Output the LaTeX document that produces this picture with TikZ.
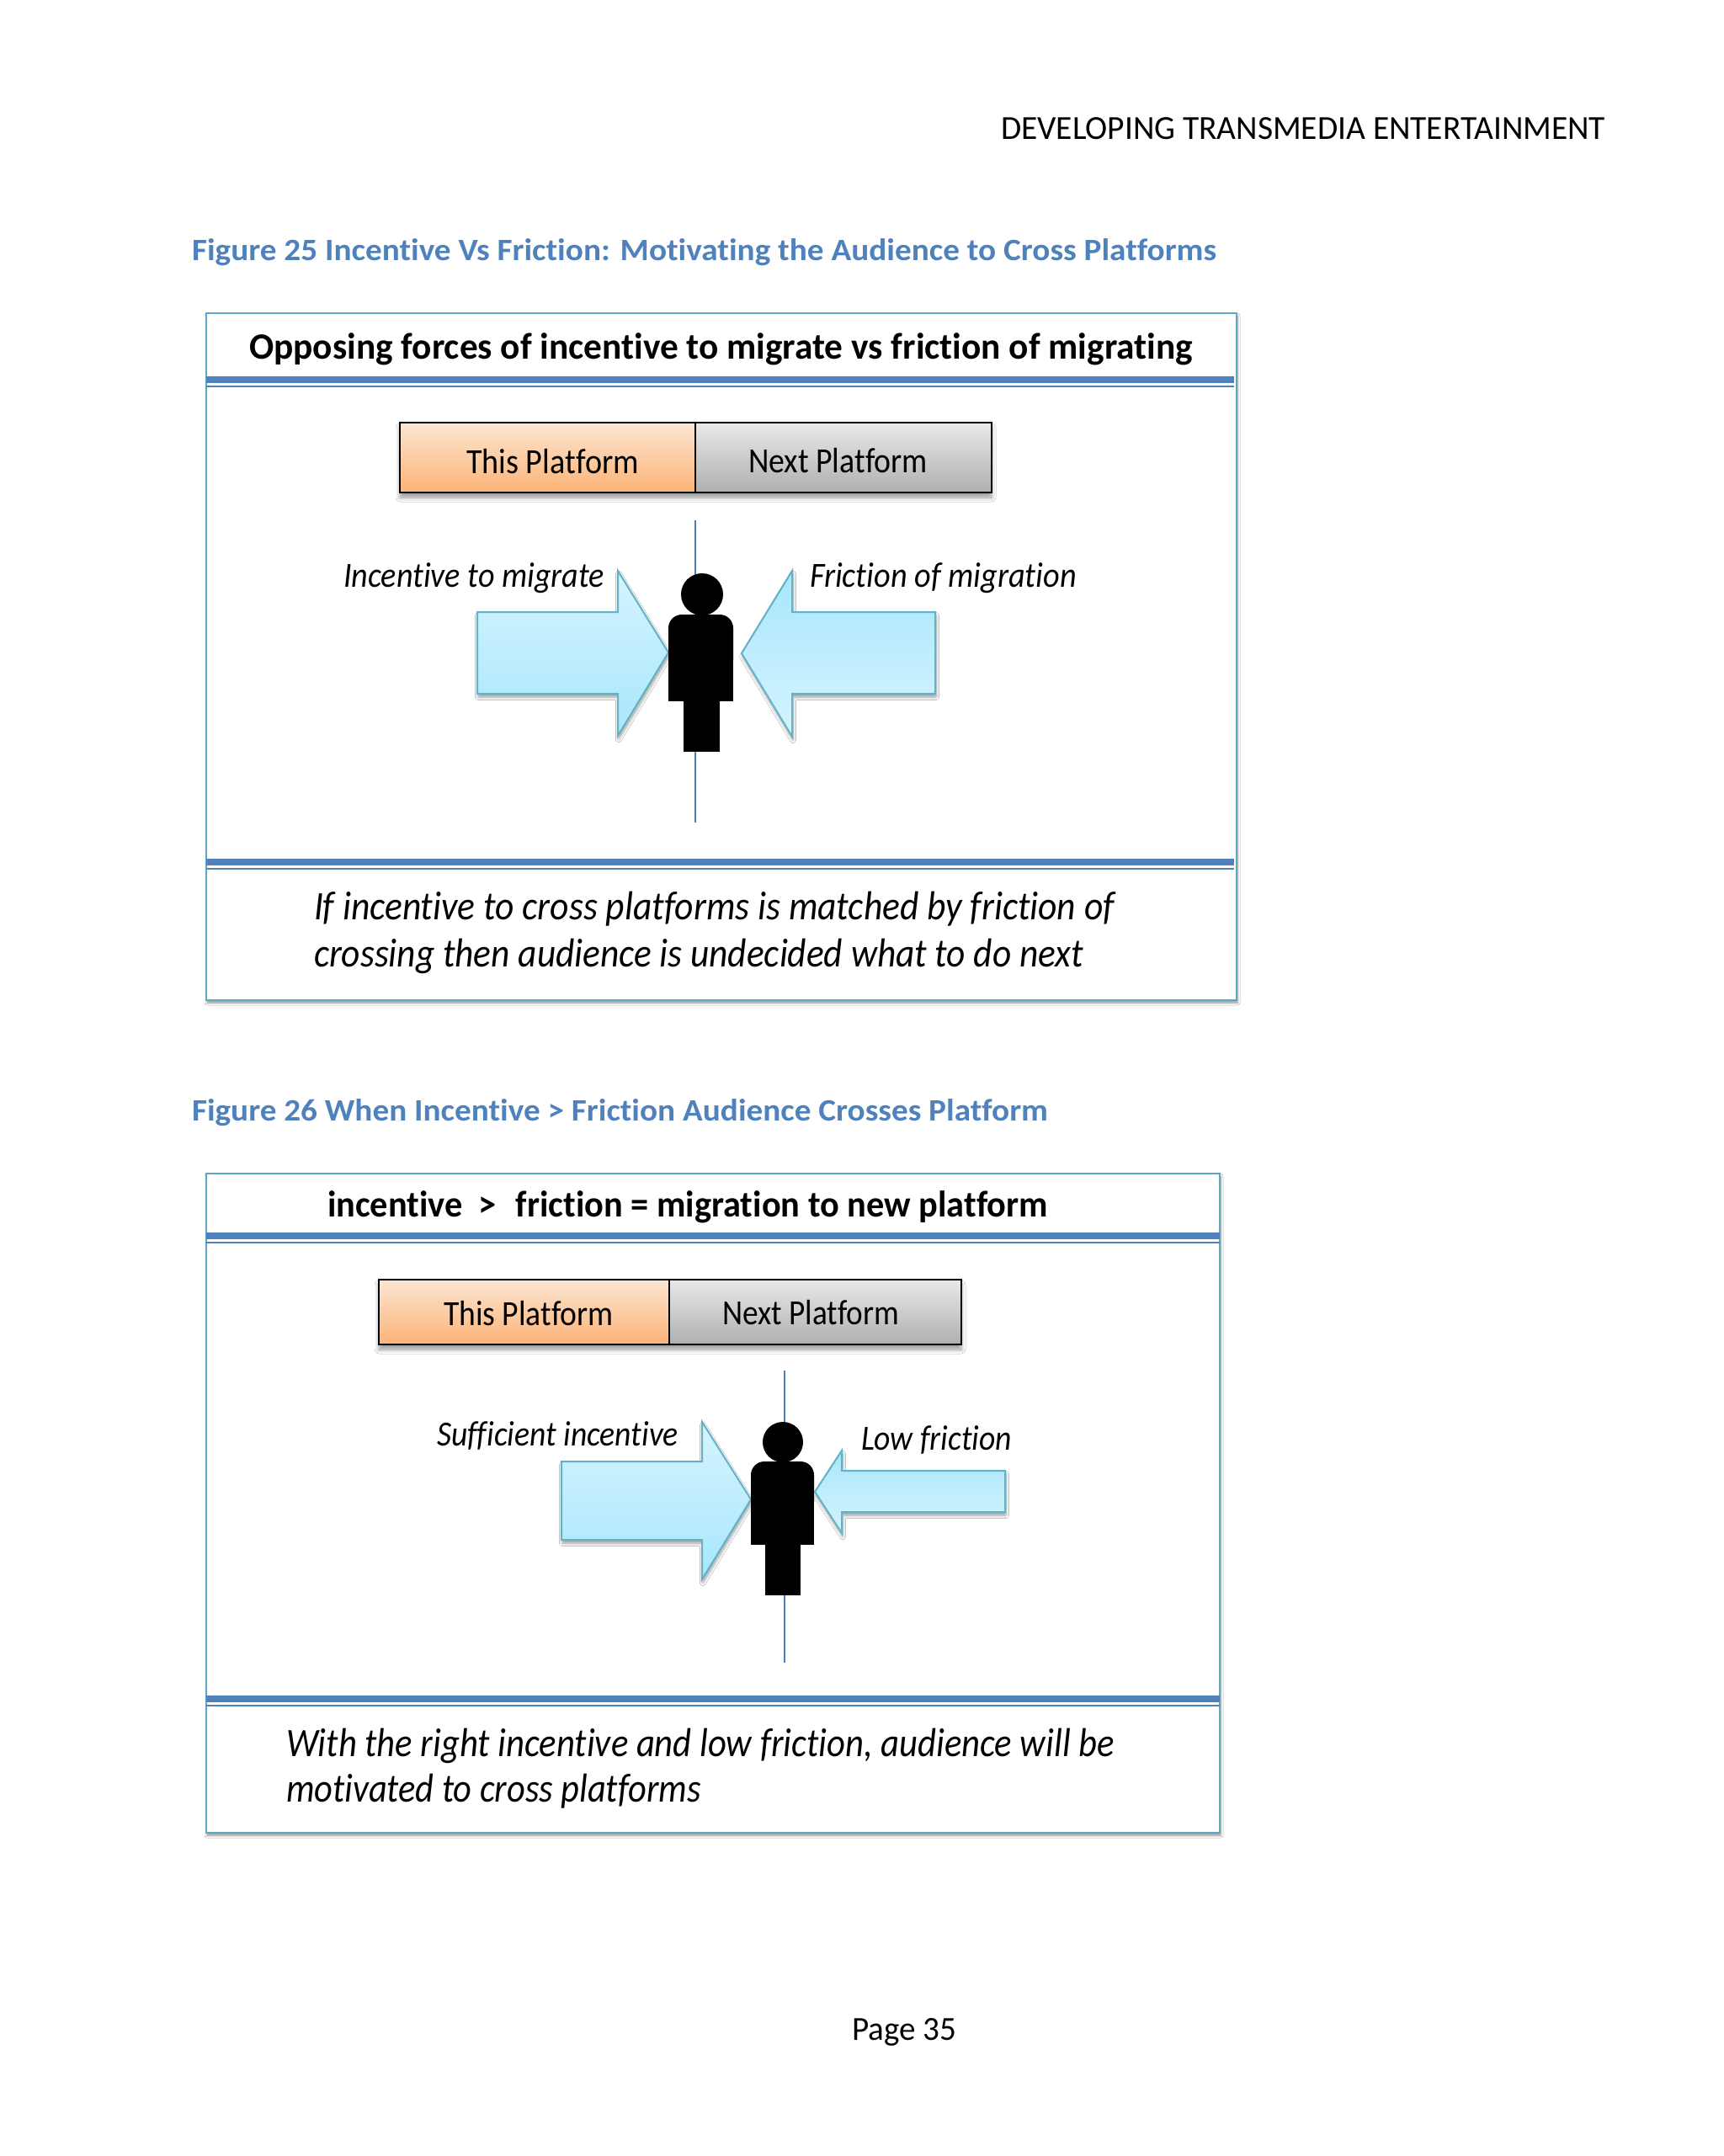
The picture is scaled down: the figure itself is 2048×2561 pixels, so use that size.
\documentclass[tikz,border=0pt]{standalone}
\usepackage{fontspec}
\usepackage{graphicx}
\setmainfont{Carlito}[Ligatures=NoCommon]
\usetikzlibrary{shadows,shadows.blur}
\definecolor{capblue}{HTML}{4F81BD}
\definecolor{boxedge}{HTML}{5BA9C2}
\definecolor{arredge}{HTML}{62B2C8}
\definecolor{arrlight}{HTML}{D6F4FE}
\definecolor{arrdark}{HTML}{A8E6FC}
\definecolor{midline}{HTML}{4A7EBB}
\definecolor{orangetop}{HTML}{FCE6D2}
\definecolor{orangebot}{HTML}{FCB377}
\definecolor{greytop}{HTML}{E9E9E9}
\definecolor{greybot}{HTML}{AFAFAF}
\newcommand{\fitw}[2]{\resizebox{\dimexpr#1pt/2\relax}{\height}{#2}}
\tikzset{
  x=0.5pt,y=-0.5pt,
  txt/.style={anchor=base west,inner sep=0pt,outer sep=0pt,text=black},
  capt/.style={txt,text=capblue,font=\fontsize{18.5}{22}\selectfont\bfseries},
  head/.style={txt,font=\fontsize{22}{26}\selectfont\bfseries},
  btn/.style={txt,font=\fontsize{21}{25}\selectfont},
  lab/.style={txt,font=\fontsize{21}{25}\selectfont\itshape},
  note/.style={txt,font=\fontsize{24}{28}\selectfont\itshape},
  page/.style={txt,font=\fontsize{20}{24}\selectfont},
  frame/.style={draw=boxedge,line width=1.2pt,fill=white,
    blur shadow={shadow xshift=0.5pt,shadow yshift=-1.5pt,shadow blur steps=5,shadow blur radius=1.5pt,shadow opacity=45}},
  rulethick/.style={draw=capblue,line width=3.6pt},
  rulethin/.style={draw=capblue,line width=1pt},
  btnshadow/.style={blur shadow={shadow xshift=0pt,shadow yshift=-3pt,shadow blur steps=6,shadow blur radius=2.5pt,shadow opacity=40}},
  orangebtn/.style={draw=black,line width=1pt,top color=orangetop,bottom color=orangebot},
  greybtn/.style={draw=black,line width=1pt,top color=greytop,bottom color=greybot},
  axis/.style={draw=midline,line width=1pt},
  arrowdown/.style={draw=arredge,line width=1pt,top color=arrlight,bottom color=arrdark,line join=miter,
    blur shadow={shadow xshift=0.5pt,shadow yshift=-2pt,shadow blur steps=5,shadow blur radius=1.8pt,shadow opacity=40}},
  arrowup/.style={draw=arredge,line width=1pt,top color=arrdark,bottom color=arrlight,line join=miter,
    blur shadow={shadow xshift=0.5pt,shadow yshift=-2pt,shadow blur steps=5,shadow blur radius=1.8pt,shadow opacity=40}},
  person/.style={fill=black,draw=none},
}
\begin{document}
\begin{tikzpicture}
\useasboundingbox[fill=white] (0,0) rectangle (2048,2561);

% page furniture
\node[page] (hdr) at (1189,165) {\fitw{718}{DEVELOPING TRANSMEDIA ENTERTAINMENT}};
\node[capt] (cap1) at (228,309) {\fitw{1217}{Figure 25 Incentive Vs Friction: Motivating the Audience to Cross Platforms}};
\node[capt] (cap2) at (228,1331) {\fitw{1017}{Figure 26 When Incentive > Friction Audience Crosses Platform}};
\node[page] (pg) at (1012,2423) {\fitw{124}{Page 35}};

% ---------- Figure 25 ----------
\path[frame] (245,372) rectangle (1469,1188);
\draw[rulethick] (245,451) -- (1466,451);
\draw[rulethin] (245,458.5) -- (1466,458.5);
\draw[rulethick] (245,1024) -- (1466,1024);
\draw[rulethin] (245,1031.5) -- (1466,1031.5);
\node[head] (t1) at (296,426) {\fitw{1121}{Opposing forces of incentive to migrate vs friction of migrating}};

\path[btnshadow,fill=white] (475,502) rectangle (1178,585);
\path[orangebtn] (475,502) rectangle (825.5,585);
\path[greybtn] (825.5,502) rectangle (1178,585);
\node[btn] (a1) at (554,562) {\fitw{205}{This Platform}};
\node[btn] (a2) at (889,561) {\fitw{213}{Next Platform}};

\draw[axis] (826,618) -- (826,977);
\path[arrowdown] (567,727) -- (734,727) -- (734,678) -- (794,775) -- (734,874) -- (734,824) -- (567,824) -- cycle;
\path[arrowup] (1111,727) -- (941,727) -- (941,678) -- (881,776) -- (941,875) -- (941,824) -- (1111,824) -- cycle;
\fill[person] (834,706) circle (25);
\fill[person] (812,825) rectangle (855,893);
\fill[person,rounded corners=8pt] (794,730) -- (871,730) -- (871,800) -- (794,800) -- cycle;
\fill[person] (794,780) rectangle (871,833);
\node[lab] (l1) at (408,697) {\fitw{310}{Incentive to migrate}};
\node[lab] (l2) at (962,697) {\fitw{317}{Friction of migration}};
\node[note] (n1) at (373,1092) {\fitw{951}{If incentive to cross platforms is matched by friction of}};
\node[note] (n2) at (373,1148) {\fitw{914}{crossing then audience is undecided what to do next}};

% ---------- Figure 26 ----------
\path[frame] (245,1394) rectangle (1449,2177);
\draw[rulethick] (245,1468) -- (1449,1468);
\draw[rulethin] (245,1475.5) -- (1449,1475.5);
\draw[rulethick] (245,2018) -- (1449,2018);
\draw[rulethin] (245,2025.5) -- (1449,2025.5);
\node[head] (t2) at (389,1445) {\fitw{856}{incentive\;\,>\;\;friction = migration to new platform}};

\path[btnshadow,fill=white] (450,1520) rectangle (1142,1597);
\path[orangebtn] (450,1520) rectangle (795,1597);
\path[greybtn] (795,1520) rectangle (1142,1597);
\node[btn] (b1) at (527,1574) {\fitw{202}{This Platform}};
\node[btn] (b2) at (858,1573) {\fitw{210}{Next Platform}};

\draw[axis] (932,1628) -- (932,1975);
\path[arrowdown] (667,1736) -- (834,1736) -- (834,1689) -- (892,1781) -- (834,1876) -- (834,1829) -- (667,1829) -- cycle;
\path[arrowup] (1194,1747) -- (1000,1747) -- (1000,1723) -- (968,1772) -- (1000,1821) -- (1000,1796) -- (1194,1796) -- cycle;
\fill[person] (930,1713) circle (24);
\fill[person] (909,1825) rectangle (951,1895);
\fill[person,rounded corners=8pt] (892,1736) -- (967,1736) -- (967,1800) -- (892,1800) -- cycle;
\fill[person] (892,1780) rectangle (967,1835);
\node[lab] (l3) at (519,1717) {\fitw{287}{Sufficient incentive}};
\node[lab] (l4) at (1023,1722) {\fitw{179}{Low friction}};
\node[note] (n3) at (340,2086) {\fitw{984}{With the right incentive and low friction, audience will be}};
\node[note] (n4) at (340,2140) {\fitw{493}{motivated to cross platforms}};
\end{tikzpicture}
\end{document}
